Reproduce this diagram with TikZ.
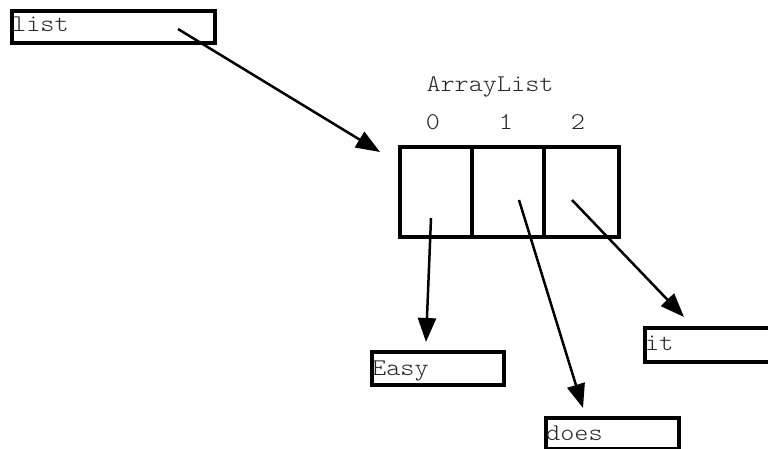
\documentclass[tikz,border=0pt]{standalone}
\usepackage{fontspec}
\newfontfamily\monofam[FakeStretch=1.12]{Latin Modern Mono Light}
\usetikzlibrary{arrows.meta}
\begin{document}
\begin{tikzpicture}[x=1pt,y=-1pt,
 box/.style={draw=black,line width=4pt,inner sep=0pt,anchor=north west},
 lbl/.style={font=\monofam\fontsize{24}{24}\selectfont,text=black!85,inner sep=0pt,anchor=base west},
 clbl/.style={font=\monofam\fontsize{24}{24}\selectfont,text=black!85,inner sep=0pt,anchor=base},
 ptr/.style={line width=2.5pt,-{Triangle[length=24pt,width=18pt]}}]
\useasboundingbox (0,0) rectangle (768,449);
% boxes
\node[box,minimum width=203pt,minimum height=32pt] (listbox) at (10,9) {};
\node[lbl] (listtxt) at (12,32) {list};
\node[clbl] (title) at (490,92) {ArrayList};
\node[clbl] (i0) at (433,130) {0};
\node[clbl] (i1) at (506,130) {1};
\node[clbl] (i2) at (578,130) {2};
\node[box,minimum width=72pt,minimum height=90pt] (cell0) at (398,145) {};
\node[box,minimum width=72pt,minimum height=90pt] (cell1) at (470,145) {};
\node[box,minimum width=75pt,minimum height=90pt] (cell2) at (542,145) {};
\node[box,minimum width=132pt,minimum height=33pt] (easybox) at (370,350) {};
\node[lbl] (easytxt) at (372,375) {Easy};
\node[box,minimum width=140pt,minimum height=34pt] (itbox) at (643,326) {};
\node[lbl] (ittxt) at (645,350) {it};
\node[box,minimum width=133pt,minimum height=31pt] (doesbox) at (544,416) {};
\node[lbl] (doestxt) at (546,440) {does};
% pointer ends
\coordinate (ls) at (178,29);  \coordinate (lt) at (380,152);
\coordinate (s0) at (431,218); \coordinate (t0) at (426,342);
\coordinate (s1) at (519,200); \coordinate (t1) at (583,408);
\coordinate (s2) at (572,200); \coordinate (t2) at (684,317);
\draw[ptr] (ls) -- (lt);
\draw[ptr] (s0) -- (t0);
\draw[ptr] (s1) -- (t1);
\draw[ptr] (s2) -- (t2);
\end{tikzpicture}
\end{document}
